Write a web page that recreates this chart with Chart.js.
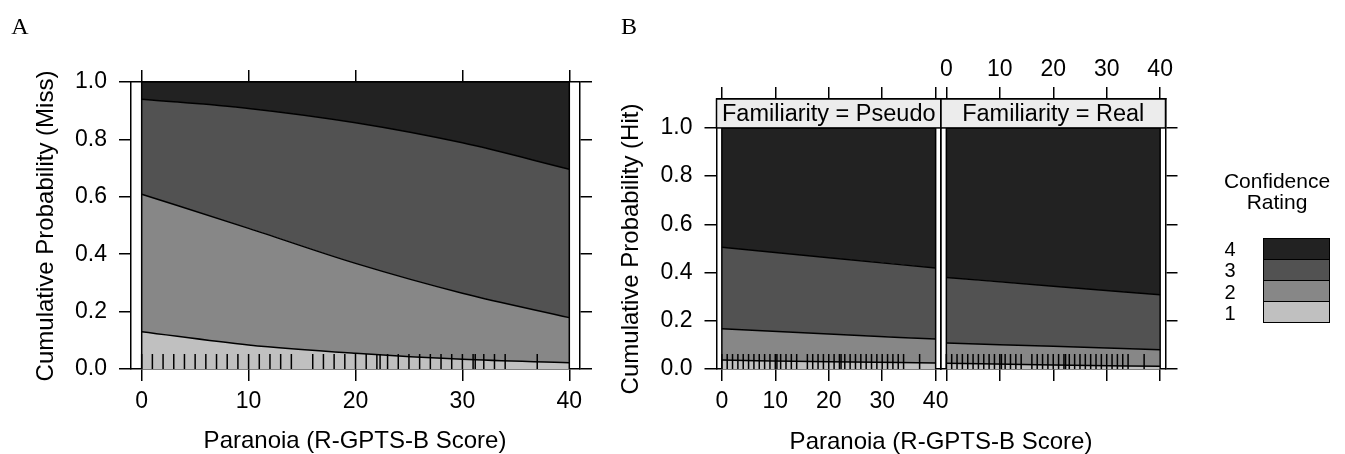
<!DOCTYPE html>
<html>
<head>
<meta charset="utf-8">
<script src="https://cdn.jsdelivr.net/npm/chart.js@4.4.1/dist/chart.umd.min.js"></script>
<style>
    body { margin: 0; width: 1345px; height: 454px; position: relative; overflow: hidden; background: #fff;
           font-family: "Liberation Sans", Arial, sans-serif; color: #000; }
    canvas { position: absolute; left: 0; top: 0; }
    .txt { position: absolute; white-space: nowrap; transform: translate(-50%, -50%); line-height: 1; }
    .vert { transform: translate(-50%, -50%) rotate(-90deg); }
    .tag { font-family: "Liberation Serif", "Times New Roman", serif; font-size: 24px; }
    .title { font-size: 24px; }
    #key { position: absolute; left: 1263px; top: 238px; width: 67px; height: 85px; box-sizing: border-box;
           border: 1.5px solid #000; display: flex; flex-direction: column; }
    #key div { flex: 1; border-top: 1.5px solid #000; }
    #key div:first-child { border-top: none; }
</style>
</head>
<body>
<canvas id="chartA" width="1345" height="454"></canvas>
<canvas id="chartPseudo" width="1345" height="454"></canvas>
<canvas id="chartReal" width="1345" height="454"></canvas>

<div class="txt tag" style="left:20px; top:26px">A</div>
<div class="txt tag" style="left:629px; top:26px">B</div>
<div class="txt title vert" style="left:45px; top:226px">Cumulative Probability (Miss)</div>
<div class="txt title" style="left:355px; top:440px">Paranoia (R-GPTS-B Score)</div>
<div class="txt title vert" style="left:630px; top:249px">Cumulative Probability (Hit)</div>
<div class="txt title" style="left:941px; top:441px">Paranoia (R-GPTS-B Score)</div>

<div class="txt" style="left:1277px; top:180px; font-size:21px">Confidence</div>
<div class="txt" style="left:1277px; top:201px; font-size:21px">Rating</div>
<div id="key"></div>
<div id="keyLabels"></div>

<script>
// ---- data ----
const paranoiaA = [0, 10, 20, 30, 40]
const missCut1 = [0.130, 0.084, 0.055, 0.034, 0.022]
const missCut2 = [0.609, 0.490, 0.368, 0.264, 0.179]
const missCut3 = [0.940, 0.908, 0.858, 0.788, 0.696]

const paranoiaB = [0, 20, 40]
const pseudoCut1 = [0.037, 0.030, 0.025]
const pseudoCut2 = [0.167, 0.145, 0.124]
const pseudoCut3 = [0.505, 0.461, 0.419]
const realCut1 = [0.024, 0.017, 0.011]
const realCut2 = [0.108, 0.094, 0.080]
const realCut3 = [0.380, 0.343, 0.308]

const rugMiss = [0, 1, 2, 3, 4, 5, 6, 7, 8, 9, 10, 11, 12, 13, 14, 16, 17, 18, 19, 20, 21, 22, 22.3,
    23, 24, 25, 26, 27, 28, 29, 30, 31, 31.2, 32, 33, 34, 37]
const rugHit = [0, 1, 2, 3, 4, 5, 6, 7, 8, 9, 10, 10.3, 11, 12, 13, 14, 16, 17, 18, 19, 20, 21, 22, 22.3,
    23, 24, 25, 26, 27, 28, 29, 30, 31, 32, 33, 34, 37]

const xTicks = [0, 10, 20, 30, 40]
const yTicks = [0, 0.2, 0.4, 0.6, 0.8, 1.0]
const ratings = ['1', '2', '3', '4']
const ratingColors = ['#c0c0c0', '#878787', '#525252', '#222222']
const facets = ['Familiarity = Pseudo', 'Familiarity = Real']

const W = 1345, H = 454
const FONT = { family: '"Liberation Sans", Arial, sans-serif', size: 23 }

// stacked cumulative bands, top one closes at 1
function bands(xs, cuts) {
    const levels = cuts.concat([xs.map(() => 1)])
    return levels.map((vals, i) => ({
        label: ratings[i],
        data: xs.map((x, j) => ({ x: x, y: vals[j] })),
        backgroundColor: ratingColors[i],
        borderColor: '#000',
        borderWidth: 1.5,
        pointRadius: 0,
        fill: i === 0 ? 'origin' : '-1',
        cubicInterpolationMode: 'monotone'
    }))
}

function axis(position, range, tickValues, o) {
    const horiz = position === 'top' || position === 'bottom'
    return {
        type: 'linear',
        position: position,
        min: range[0],
        max: range[1],
        z: 1,
        afterBuildTicks: s => { s.ticks = tickValues.map(v => ({ value: v })) },
        afterFit: s => { if (horiz) s.height = o.size; else s.width = o.size },
        grid: { drawOnChartArea: false, drawTicks: o.ticks, tickLength: 12, color: '#000', lineWidth: 1.5 },
        border: { display: true, color: '#000', width: 1.5 },
        ticks: {
            display: o.labels, color: '#000', font: FONT, padding: o.pad, maxRotation: 0, autoSkip: false,
            callback: v => horiz ? v : v.toFixed(1)
        }
    }
}

// edges of the fitted region, rug of observed scores, facet strip
const panelMarks = {
    id: 'panelMarks',
    afterDatasetsDraw(chart, args, opts) {
        const { ctx, scales: { x, y } } = chart
        const y0 = y.getPixelForValue(0), y1 = y.getPixelForValue(1)
        ctx.save()
        ctx.strokeStyle = '#000'
        ctx.lineWidth = 1.5
        const ends = [opts.xs[0], opts.xs[opts.xs.length - 1]]
        ends.forEach(v => {
            const px = x.getPixelForValue(v)
            ctx.beginPath(); ctx.moveTo(px, y0); ctx.lineTo(px, y1); ctx.stroke()
        })
        opts.rug.forEach(v => {
            const px = x.getPixelForValue(v)
            ctx.beginPath(); ctx.moveTo(px, y0); ctx.lineTo(px, y0 - 15); ctx.stroke()
        })
        ctx.restore()
    },
    afterDraw(chart, args, opts) {
        if (!opts.strip) return
        const { ctx, chartArea: a, scales: { y } } = chart
        const bottom = y.getPixelForValue(1)
        ctx.save()
        ctx.fillStyle = '#ececec'
        ctx.fillRect(a.left, a.top, a.right - a.left, bottom - a.top)
        ctx.strokeStyle = '#000'
        ctx.lineWidth = 1.5
        ctx.strokeRect(a.left, a.top, a.right - a.left, bottom - a.top)
        ctx.fillStyle = '#000'
        ctx.font = '23.5px "Liberation Sans", Arial, sans-serif'
        ctx.textAlign = 'center'
        ctx.textBaseline = 'middle'
        ctx.fillText(opts.strip, (a.left + a.right) / 2, (a.top + bottom) / 2 + 1)
        ctx.restore()
    }
}

function makePanel(id, cfg) {
    const s = cfg.sizes
    const xr = [-1, 41], yr = [0, cfg.yMax]
    new Chart(document.getElementById(id), {
        type: 'line',
        data: { datasets: bands(cfg.xs, cfg.cuts) },
        options: {
            responsive: false,
            animation: false,
            events: [],
            layout: {
                padding: {
                    left: cfg.box.l - s.left,
                    right: W - cfg.box.r - s.right,
                    top: cfg.box.t - s.top,
                    bottom: H - cfg.box.b - s.bottom
                }
            },
            scales: {
                x: axis('bottom', xr, xTicks, cfg.bottom),
                x2: axis('top', xr, xTicks, cfg.top),
                y: axis('left', yr, yTicks, cfg.left),
                y2: axis('right', yr, yTicks, cfg.right)
            },
            plugins: {
                legend: { display: false },
                tooltip: { enabled: false },
                panelMarks: { xs: cfg.xs, rug: cfg.rug, strip: cfg.strip }
            }
        },
        plugins: [panelMarks]
    })
}

const withLabels = (size, pad) => ({ size: size, ticks: true, labels: true, pad: pad })
const ticksOnly = { size: 14, ticks: true, labels: false, pad: 0 }
const bare = { size: 0, ticks: false, labels: false, pad: 0 }

makePanel('chartA', {
    box: { l: 131, r: 580, t: 82, b: 369 },
    sizes: { left: 60, right: 14, top: 14, bottom: 50 },
    yMax: 1,
    xs: paranoiaA,
    cuts: [missCut1, missCut2, missCut3],
    rug: rugMiss,
    bottom: withLabels(50, 7), top: ticksOnly, left: withLabels(60, 12), right: ticksOnly
})

makePanel('chartPseudo', {
    box: { l: 716.5, r: 941, t: 99, b: 369 },
    sizes: { left: 60, right: 0, top: 14, bottom: 50 },
    yMax: 1.12,
    xs: paranoiaB,
    cuts: [pseudoCut1, pseudoCut2, pseudoCut3],
    rug: rugHit,
    strip: facets[0],
    bottom: withLabels(50, 7), top: ticksOnly, left: withLabels(60, 12), right: bare
})

makePanel('chartReal', {
    box: { l: 941, r: 1165.5, t: 99, b: 369 },
    sizes: { left: 0, right: 14, top: 50, bottom: 14 },
    yMax: 1.12,
    xs: paranoiaB,
    cuts: [realCut1, realCut2, realCut3],
    rug: rugHit,
    strip: facets[1],
    bottom: ticksOnly, top: withLabels(50, 4), left: bare, right: ticksOnly
})

// legend key, top rating first
const key = document.getElementById('key')
const keyLabels = document.getElementById('keyLabels')
ratings.slice().reverse().forEach((r, i) => {
    const cell = document.createElement('div')
    cell.style.background = ratingColors[ratings.length - 1 - i]
    key.appendChild(cell)
    const lab = document.createElement('div')
    lab.className = 'txt'
    lab.style.left = '1230px'
    lab.style.top = (249 + i * 21.3) + 'px'
    lab.style.fontSize = '20px'
    lab.textContent = r
    keyLabels.appendChild(lab)
})
</script>
</body>
</html>
